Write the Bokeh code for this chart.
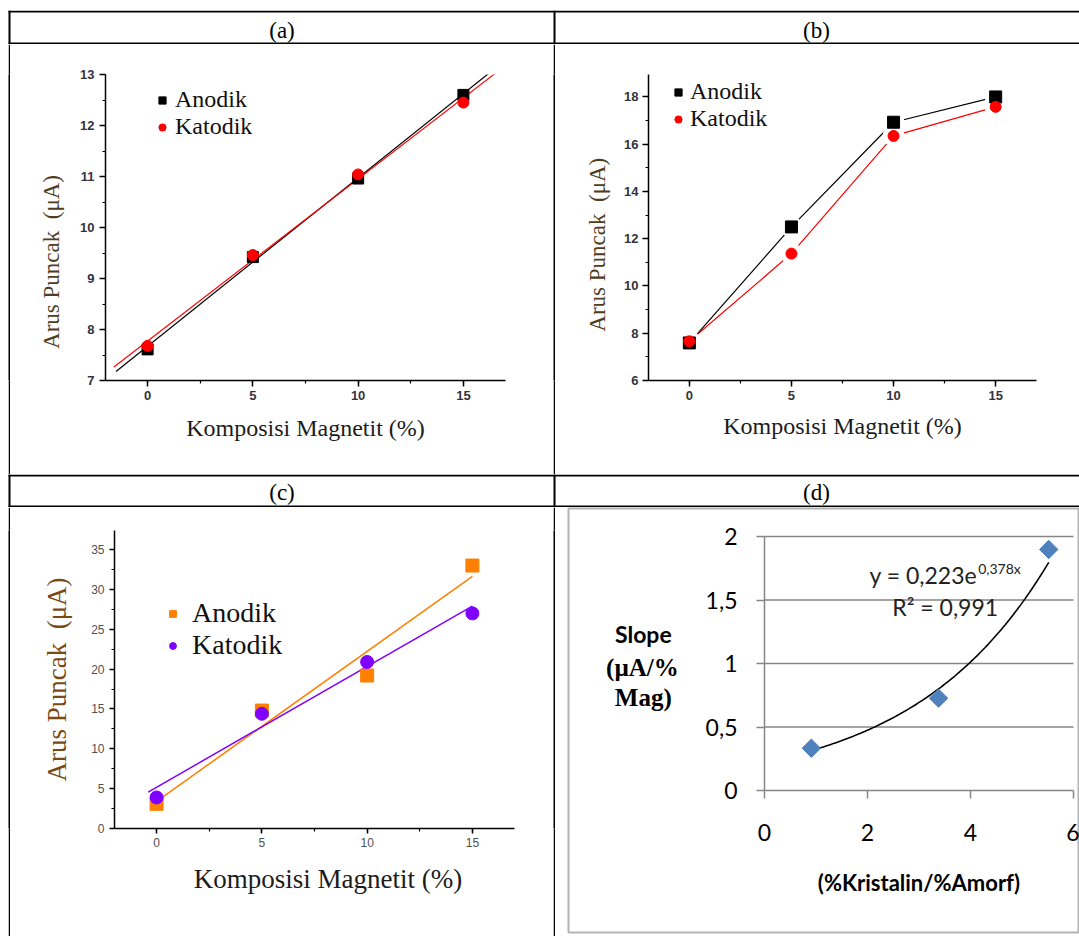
import numpy as np
from bokeh.plotting import figure
from bokeh.models import (Range1d, SingleIntervalTicker, FixedTicker, Legend, LegendItem,
                          Spacer, CustomJSTickFormatter)
from bokeh.layouts import row, column
from bokeh.core.properties import value
from bokeh.embed import file_html
from bokeh.resources import INLINE

# ---------------------------------------------------------------- data
komposisi = [0, 5, 10, 15]                      # magnetite content (%)

a_anodik = [7.61, 9.42, 10.96, 12.60]           # peak current (uA), panel (a)
a_katodik = [7.68, 9.46, 11.04, 12.45]

b_anodik = [7.59, 12.50, 16.93, 18.00]          # panel (b)
b_katodik = [7.66, 11.37, 16.35, 17.58]

c_anodik = [3.1, 14.8, 19.2, 33.0]              # panel (c)
c_katodik = [3.9, 14.4, 20.9, 27.0]

rasio_kristalin = [0.91, 3.38, 5.52]            # %crystalline / %amorphous
slope_arus = [0.333, 0.727, 1.898]              # slope (uA / % Mag)
trend_a = 0.223                                 # y = a * exp(k x)
trend_k = 0.378
trend_r2 = 0.991
d_xticks = [0, 2, 4, 6]
d_yticks = [0, 0.5, 1, 1.5, 2]

panel_tags = ["(a)", "(b)", "(c)", "(d)"]
legend_names = ["Anodik", "Katodik"]

SERIF = "Liberation Serif"
SANS = "Liberation Sans"
XL = "Lato"
NBSP = "\u00a0"
PAGE_W = 1079


def rule(w, h, color="black"):
    """Solid block used for the table's vertical rules."""
    return figure(width=w, height=h, toolbar_location=None, output_backend="svg",
                  x_axis_type=None, y_axis_type=None, min_border=0,
                  background_fill_color=color, border_fill_color=color,
                  outline_line_color=None)


def header(tags, height, top_rule, bottom_rule, text_mid):
    h = figure(width=PAGE_W, height=height, x_range=Range1d(0, PAGE_W),
               y_range=Range1d(height, 0), toolbar_location=None,
               output_backend="svg", x_axis_type=None, y_axis_type=None,
               min_border=0, outline_line_color=None)
    h.grid.grid_line_color = None
    h.quad(left=[8, 8], right=[PAGE_W, PAGE_W],
           top=[top_rule[0], bottom_rule[0]], bottom=[top_rule[1], bottom_rule[1]],
           fill_color="black", line_color=None)
    h.quad(left=[8, 553], right=[10, 555], top=[0, 0], bottom=[height, height],
           fill_color="black", line_color=None)
    h.text(x=[281.5, 816], y=[text_mid, text_mid], text=tags,
           text_font=value(SERIF), text_font_size="23px", text_color="black",
           text_align="center", text_baseline="middle")
    return h


def origin_panel(width, height, xr, yr, y_interval, borders, tick_font_size,
                 tick_style, tick_color, title_size, ytitle_color,
                 xlabel, ylabel, y_title_standoff, x_title_standoff,
                 x_label_standoff, y_label_standoff, tick_out=6):
    p = figure(width=width, height=height, x_range=Range1d(*xr), y_range=Range1d(*yr),
               min_border_left=borders[0], min_border_right=borders[1],
               min_border_top=borders[2], min_border_bottom=borders[3],
               toolbar_location=None, output_backend="svg")
    p.outline_line_color = None
    p.grid.grid_line_color = None
    p.xaxis.ticker = SingleIntervalTicker(interval=5, num_minor_ticks=2)
    p.yaxis.ticker = SingleIntervalTicker(interval=y_interval, num_minor_ticks=2)
    for ax in (p.xaxis[0], p.yaxis[0]):
        ax.axis_line_color = "black"
        ax.axis_line_width = 1.5
        ax.major_tick_line_color = "black"
        ax.major_tick_line_width = 1.5
        ax.minor_tick_line_color = "black"
        ax.minor_tick_line_width = 1.2
        ax.major_tick_in = 0
        ax.major_tick_out = tick_out
        ax.minor_tick_in = 0
        ax.minor_tick_out = 3
        ax.major_label_text_font = SANS
        ax.major_label_text_font_size = tick_font_size
        ax.major_label_text_font_style = tick_style
        ax.major_label_text_color = tick_color
        ax.axis_label_text_font = SERIF
        ax.axis_label_text_font_style = "normal"
    p.xaxis.axis_label = xlabel
    p.yaxis.axis_label = ylabel
    p.xaxis.axis_label_text_font_size = title_size[0]
    p.yaxis.axis_label_text_font_size = title_size[1]
    p.xaxis.axis_label_text_color = "#1c1c1c"
    p.yaxis.axis_label_text_color = ytitle_color
    p.xaxis.axis_label_standoff = x_title_standoff
    p.yaxis.axis_label_standoff = y_title_standoff
    p.xaxis.major_label_standoff = x_label_standoff
    p.yaxis.major_label_standoff = y_label_standoff
    return p


def add_legend(p, renderers, loc, font_size, standoff, glyph):
    items = [LegendItem(label=n, renderers=[r]) for n, r in zip(legend_names, renderers)]
    lg = Legend(items=items, location=loc, orientation="vertical", padding=0, margin=0,
                spacing=0, glyph_width=glyph, glyph_height=glyph, label_standoff=standoff,
                label_text_font=SERIF, label_text_font_size=font_size,
                label_text_color="#111111", background_fill_alpha=0,
                border_line_alpha=0)
    p.add_layout(lg)


def linfit(x, y, x0, x1):
    m, b = np.polyfit(x, y, 1)
    xs = np.array([x0, x1])
    return xs, m * xs + b


Y_TITLE = "Arus Puncak" + NBSP + " (\u03bcA)"
X_TITLE = "Komposisi Magnetit (%)"

# ---------------------------------------------------------------- (a) linear fits
pa = origin_panel(543, 430, (-2, 17), (7, 13), 1, (95, 48, 30, 93), "13px", "bold",
                  "#333340", ("24px", "23px"), "#4f3d22", X_TITLE, Y_TITLE + NBSP * 12,
                  13, 12, 4, 5)
xs, ys = linfit(komposisi, a_anodik, -1.5, 16.25)
pa.line(xs, ys, line_color="black", line_width=1.2)
xs, ys = linfit(komposisi, a_katodik, -1.6, 16.5)
pa.line(xs, ys, line_color="#ff0000", line_width=1.2)
ra1 = pa.scatter(komposisi, a_anodik, marker="square", size=11, color="black")
ra2 = pa.scatter(komposisi, a_katodik, marker="circle", size=11, color="#ff0000")
add_legend(pa, [ra1, ra2], (48, 240), "24px", 4, 18)

# ---------------------------------------------------------------- (b) connected points
pb = origin_panel(524, 430, (-2, 17), (6, 18.95), 2, (93, 43, 24, 94), "13px", "bold",
                  "#333340", ("24px", "23px"), "#4f3d22", X_TITLE, Y_TITLE + NBSP * 6,
                  11, 10, 4, 4)
pb.line(komposisi, b_anodik, line_color="black", line_width=1.2)
pb.line(komposisi, b_katodik, line_color="#ff0000", line_width=1.2)
pb.scatter(komposisi, b_anodik, marker="circle", size=21, color="white")
pb.scatter(komposisi, b_katodik, marker="circle", size=21, color="white")
rb1 = pb.scatter(komposisi, b_anodik, marker="square", size=12, color="black")
rb2 = pb.scatter(komposisi, b_katodik, marker="circle", size=11, color="#ff0000")
add_legend(pb, [rb1, rb2], (21, 248), "24px", 3, 18)

# ---------------------------------------------------------------- (c) linear fits
pc = origin_panel(543, 429, (-2, 17), (0, 37.4), 5, (104, 39, 23, 108), "12px", "normal",
                  "#505050", ("27px", "27px"), "#7a4a16", NBSP * 4 + X_TITLE, Y_TITLE,
                  16, 14, 4, 5, tick_out=5)
xs, ys = linfit(komposisi, c_anodik, 0, 15)
pc.line(xs, ys, line_color="#ff8000", line_width=1.5)
xs, ys = linfit(komposisi, c_katodik, -0.4, 15)
pc.line(xs, ys, line_color="#8000ff", line_width=1.5)
rc1 = pc.scatter(komposisi, c_anodik, marker="square", size=13, color="#ff8000")
rc2 = pc.scatter(komposisi, c_katodik, marker="circle", size=13, color="#8000ff")
add_legend(pc, [rc1, rc2], (50, 167), "28px", 11, 17)

# ---------------------------------------------------------------- (d) exponential trend
# The frame fills the chart box; the axes sit at x = 0 and y = 0 inside it.
GRID_GRAY = "#868686"
BOX_GRAY = "#b4b4b4"
pd_ = figure(width=512, height=429, x_range=Range1d(-3.806, 6.117),
             y_range=Range1d(-1.118, 2.2205),
             min_border_left=1, min_border_right=0, min_border_top=1,
             min_border_bottom=4, toolbar_location=None, output_backend="svg")
pd_.outline_line_color = BOX_GRAY
pd_.outline_line_width = 2
pd_.grid.grid_line_color = None
pd_.xaxis.ticker = FixedTicker(ticks=d_xticks)
pd_.yaxis.ticker = FixedTicker(ticks=d_yticks)
pd_.xaxis.fixed_location = 0
pd_.yaxis.fixed_location = 0
pd_.xaxis.bounds = (d_xticks[0], d_xticks[-1])
pd_.yaxis.bounds = (d_yticks[0], d_yticks[-1])
pd_.yaxis.formatter = CustomJSTickFormatter(code="return String(tick).replace('.', ',');")
for ax in (pd_.xaxis[0], pd_.yaxis[0]):
    ax.axis_line_color = None
    ax.major_tick_line_color = GRID_GRAY
    ax.major_tick_line_width = 1.5
    ax.major_tick_in = 0
    ax.major_tick_out = 8
    ax.minor_tick_line_color = None
    ax.major_label_text_font = XL
    ax.major_label_text_font_size = "23px"
    ax.major_label_text_color = "black"
pd_.xaxis.major_label_standoff = 25
pd_.yaxis.major_label_standoff = 19
pd_.xaxis.axis_label = "(%Kristalin/%Amorf)"
pd_.xaxis.axis_label_text_font = XL
pd_.xaxis.axis_label_text_font_style = "bold"
pd_.xaxis.axis_label_text_font_size = "22px"
pd_.xaxis.axis_label_text_color = "black"
pd_.xaxis.axis_label_standoff = 25

# horizontal gridlines and axis rules limited to the plotted span
x_lo, x_hi = d_xticks[0], d_xticks[-1]
y_lo, y_hi = d_yticks[0], d_yticks[-1]
pd_.segment(x0=[x_lo] * len(d_yticks), x1=[x_hi] * len(d_yticks), y0=d_yticks,
            y1=d_yticks, line_color=GRID_GRAY, line_width=1.5)
pd_.segment(x0=[x_lo], x1=[x_lo], y0=[y_lo], y1=[y_hi], line_color=GRID_GRAY,
            line_width=1.5)

xt = np.linspace(min(rasio_kristalin), max(rasio_kristalin), 120)
pd_.line(xt, trend_a * np.exp(trend_k * xt), line_color="black", line_width=1.6)
pd_.scatter(rasio_kristalin, slope_arus, marker="square", angle=np.pi / 4, size=13,
            color="#4f81bd")

# trendline equation, written from the same coefficients as the curve
eq_main = f"y = {trend_a:.3f}e".replace(".", ",")
eq_exp = f"{trend_k:.3f}x".replace(".", ",")
r2_txt = f"R\u00b2 = {trend_r2:.3f}".replace(".", ",")
pd_.text(x=[4.13], y=[1.693], text=[eq_main], text_align="right",
         text_baseline="middle", text_font=value(XL), text_font_size="23px",
         text_color="#222222")
pd_.text(x=[4.15], y=[1.75], text=[eq_exp], text_align="left",
         text_baseline="middle", text_font=value(XL), text_font_size="14px",
         text_color="#222222")
pd_.text(x=[3.51], y=[1.443], text=[r2_txt], text_align="center",
         text_baseline="middle", text_font=value(XL), text_font_size="23px",
         text_color="#222222")
# stacked y title left of the axis
pd_.text(x=[-2.353], y=[1.234], text=["Slope"], text_align="center",
         text_baseline="middle", text_font=value(XL), text_font_style="bold",
         text_font_size="23px", text_color="black")
pd_.text(x=[-2.37, -2.353], y=[0.971, 0.735], text=["(\u00b5A/%", "Mag)"],
         text_align="center", text_baseline="middle", text_font=value(SERIF),
         text_font_style="bold", text_font_size="25px", text_color="black")

# ---------------------------------------------------------------- page grid
hdr1 = header(panel_tags[:2], 34, (0, 2), (32, 34), 20)
row1 = row(Spacer(width=8, height=430), rule(2, 430), pa, rule(2, 430), pb)
hdr2 = header(panel_tags[2:], 33, (0, 2), (31, 33), 17.7)
d_cell = row(Spacer(width=12, height=429), pd_)
row2 = row(Spacer(width=8, height=429), rule(2, 429), pc, rule(2, 429), d_cell)
page = column(Spacer(width=PAGE_W, height=10), hdr1, row1, hdr2, row2)

open("out.html", "w").write(file_html(page, INLINE))
